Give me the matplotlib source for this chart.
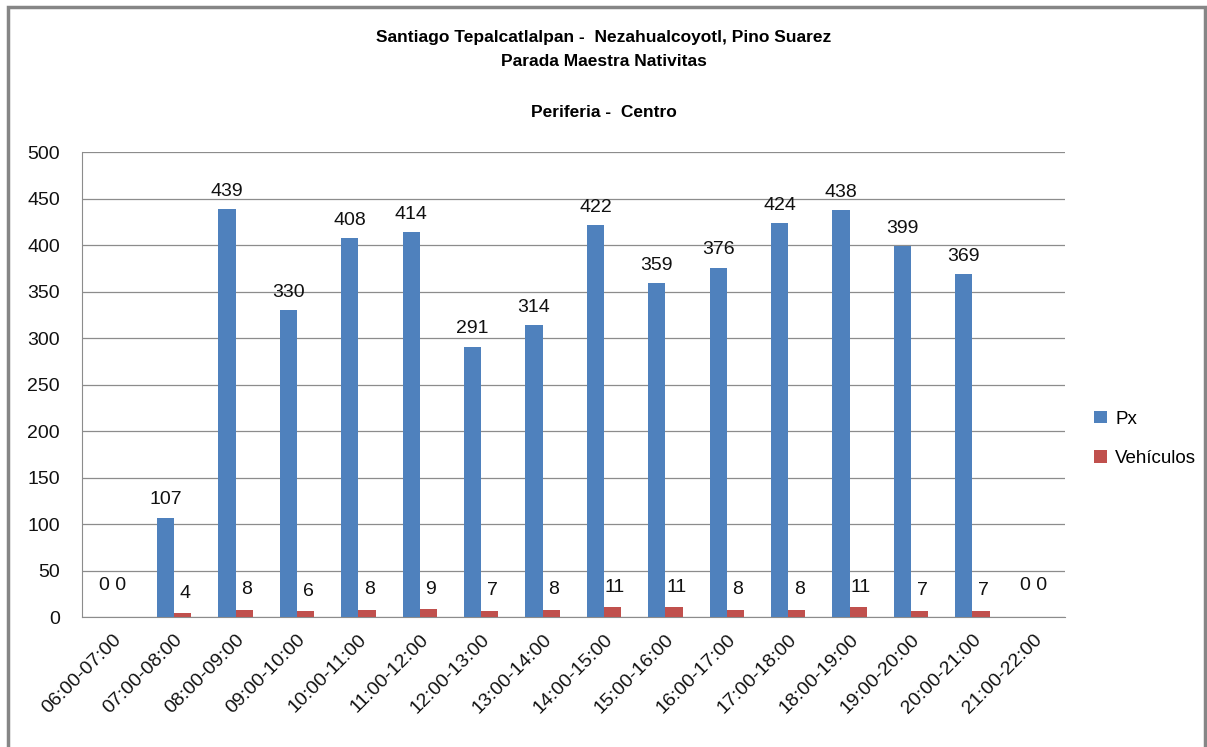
import numpy as np
import matplotlib.pyplot as plt
from matplotlib.patches import Rectangle

horas = ['06:00-07:00', '07:00-08:00', '08:00-09:00', '09:00-10:00', '10:00-11:00',
         '11:00-12:00', '12:00-13:00', '13:00-14:00', '14:00-15:00', '15:00-16:00',
         '16:00-17:00', '17:00-18:00', '18:00-19:00', '19:00-20:00', '20:00-21:00',
         '21:00-22:00']
px = [0, 107, 439, 330, 408, 414, 291, 314, 422, 359, 376, 424, 438, 399, 369, 0]
vehiculos = [0, 4, 8, 6, 8, 9, 7, 8, 11, 11, 8, 8, 11, 7, 7, 0]

plt.rcParams['font.family'] = ['Liberation Sans', 'DejaVu Sans']
fs = 14

fig = plt.figure(figsize=(12.07, 7.47), dpi=100)
ax = fig.add_axes([0.068, 0.174, 0.814, 0.622])

x = np.arange(len(horas))
w = 0.28
ax.bar(x - w / 2, px, w, color='#4F81BD', label='Px', zorder=3)
ax.bar(x + w / 2, vehiculos, w, color='#C0504D', label='Vehículos', zorder=3)

for i in range(len(horas)):
    if px[i] == 0 and vehiculos[i] == 0:
        ax.text(x[i], 25, '0 0', ha='center', va='bottom', fontsize=fs, color='#111111')
        continue
    ax.text(x[i] - w / 2, px[i] + 10, str(px[i]), ha='center', va='bottom',
            fontsize=fs, color='#111111')
    ax.text(x[i] + w / 2 + 0.04, vehiculos[i] + 12, str(vehiculos[i]), ha='center',
            va='bottom', fontsize=fs, color='#111111')

ax.set_xlim(-0.5, len(horas) - 0.5)
ax.set_ylim(0, 500)
ax.set_yticks(range(0, 501, 50))
ax.set_xticks(x)
ax.set_xticklabels(horas, rotation=45, ha='right', rotation_mode='anchor', fontsize=fs)
ax.tick_params(axis='y', labelsize=fs, length=0, pad=16, labelcolor='#111111')
ax.tick_params(axis='x', length=0, pad=10, labelcolor='#111111')
ax.grid(axis='y', color='#8C8C8C', linewidth=0.9, zorder=0)
for s in ['top', 'right']:
    ax.spines[s].set_visible(False)
ax.spines['left'].set_color('#8C8C8C')
ax.spines['bottom'].set_color('#8C8C8C')

ax.legend(loc='center left', bbox_to_anchor=(1.019, 0.383), frameon=False,
          fontsize=13.5, handlelength=0.65, handleheight=0.65, labelspacing=1.2,
          handletextpad=0.45, borderaxespad=0.2)

fig.text(0.5, 0.950, 'Santiago Tepalcatlalpan -  Nezahualcoyotl, Pino Suarez',
         ha='center', va='center', fontsize=12.5, fontweight='bold')
fig.text(0.5, 0.918, 'Parada Maestra Nativitas',
         ha='center', va='center', fontsize=12.5, fontweight='bold')
fig.text(0.5, 0.849, 'Periferia -  Centro',
         ha='center', va='center', fontsize=12.5, fontweight='bold')

fig.patches.append(Rectangle((0.007, -0.01), 0.991, 1.0, transform=fig.transFigure,
                             fill=False, edgecolor='#868686', linewidth=2.5))

fig.savefig('out.png', dpi=100)
